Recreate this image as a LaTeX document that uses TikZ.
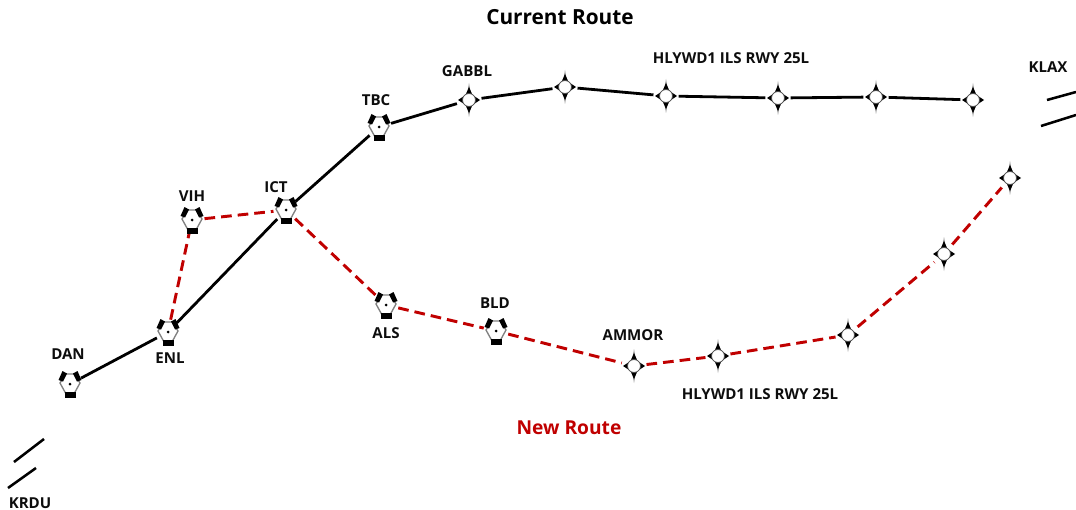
\documentclass[tikz,border=0pt]{standalone}
\usepackage{fontspec}
\setmainfont{Open Sans}
\definecolor{routered}{HTML}{C00000}
\tikzset{
  px/.style={x=0.75pt,y=-0.75pt},
  fix/.style={circle,minimum size=18.5pt,inner sep=0pt},
  lbl/.style={font=\bfseries\fontsize{11.3}{13}\selectfont,text=black!95,inner sep=0pt},
  titlelbl/.style={font=\bfseries\fontsize{15.6}{18}\selectfont,inner sep=0pt},
  cur/.style={line width=2.1pt,black},
  newr/.style={line width=2.2pt,routered,dash pattern=on 8pt off 4.5pt},
  rwy/.style={line width=1.9pt,black},
  vor/.pic={
    \draw[line width=1pt,black!50,fill=white] (-4,-10)--(4,-10)--(10,-1)--(4.5,9)--(-4.5,9)--(-10,-1)--cycle;
    \fill[black] (-5.5,8)--(5.5,8)--(5.5,14)--(-5.5,14)--cycle;
    \fill[black] (-7.5,-13)--(-3,-10.5)--(-7,-2.5)--(-11.5,-4)--cycle;
    \fill[black] (7.5,-13)--(3,-10.5)--(7,-2.5)--(11.5,-4)--cycle;
    \fill[black] (0,0) circle (1.5);
  },
  wpt/.pic={
    \fill[black!45] (0,-17)--(1.5,-8)--(-1.5,-8)--cycle (0,17)--(1.5,8)--(-1.5,8)--cycle;
    \fill[black] (0,-13)--(3.5,-5)--(11,0)--(3.5,5)--(0,13)--(-3.5,5)--(-11,0)--(-3.5,-5)--cycle;
    \draw[black!70,line width=.6pt,fill=white] (0,0) circle (6.5);
  },
}
\begin{document}
\begin{tikzpicture}[px]
\useasboundingbox (0,0) rectangle (1076,510);
% VOR fixes
\node[fix] (dan) at (70,384) {};
\node[fix] (enl) at (168,332) {};
\node[fix] (vih) at (192,220) {};
\node[fix] (ict) at (286,210) {};
\node[fix] (tbc) at (379,127) {};
\node[fix] (als) at (386,305) {};
\node[fix] (bld) at (496,331) {};
% waypoints, current route
\node[fix] (gabbl) at (469,100) {};
\node[fix] (c2) at (565,87) {};
\node[fix] (c3) at (666,96) {};
\node[fix] (c4) at (778,98) {};
\node[fix] (c5) at (876,97) {};
\node[fix] (c6) at (973,100) {};
% waypoints, new route
\node[fix] (ammor) at (634,366) {};
\node[fix] (n2) at (718,356) {};
\node[fix] (n3) at (848,335) {};
\node[fix] (n4) at (944,254) {};
\node[fix] (n5) at (1010,178) {};
% runway end points
\coordinate (ra1) at (14,462); \coordinate (ra2) at (44,439);
\coordinate (rb1) at (8,488); \coordinate (rb2) at (36,468);
\coordinate (la1) at (1047,100); \coordinate (la2) at (1076,92);
\coordinate (lb1) at (1041,126); \coordinate (lb2) at (1076,115);
% connectors
\draw[cur] (dan)--(enl);
\draw[cur] (enl)--(ict);
\draw[cur] (ict)--(tbc);
\draw[cur] (tbc)--(gabbl);
\draw[cur] (gabbl)--(c2);
\draw[cur] (c2)--(c3);
\draw[cur] (c3)--(c4);
\draw[cur] (c4)--(c5);
\draw[cur] (c5)--(c6);
\draw[newr] (enl)--(vih);
\draw[newr] (vih)--(ict);
\draw[newr] (ict)--(als);
\draw[newr] (als)--(bld);
\draw[newr] (bld)--(ammor);
\draw[newr] (ammor)--(n2);
\draw[newr] (n2)--(n3);
\draw[newr] (n3)--(n4);
\draw[newr] (n4)--(n5);
\draw[rwy] (ra1)--(ra2);
\draw[rwy] (rb1)--(rb2);
\draw[rwy] (la1)--(la2);
\draw[rwy] (lb1)--(lb2);
% symbols
\foreach \p in {dan,enl,vih,ict,tbc,als,bld} \pic at (\p) {vor};
\foreach \p in {gabbl,c2,c3,c4,c5,c6,ammor,n2,n3,n4,n5} \pic at (\p) {wpt};
% labels
\node[titlelbl] (title) at (560,17) {Current Route};
\node[titlelbl,text=routered,font=\bfseries\fontsize{14.4}{17}\selectfont] (newlbl) at (569,428) {New Route};
\node[lbl] (l1) at (467,71) {GABBL};
\node[lbl] (l2) at (731,58) {HLYWD1 ILS RWY 25L};
\node[lbl] (l3) at (1048,67) {KLAX};
\node[lbl] (l4) at (376,100) {TBC};
\node[lbl] (l5) at (276,187) {ICT};
\node[lbl] (l6) at (192,196) {VIH};
\node[lbl] (l7) at (68,354) {DAN};
\node[lbl] (l8) at (170,358) {ENL};
\node[lbl] (l9) at (386,333) {ALS};
\node[lbl] (l10) at (495,303) {BLD};
\node[lbl] (l11) at (633,335) {AMMOR};
\node[lbl] (l12) at (760,394) {HLYWD1 ILS RWY 25L};
\node[lbl] (l13) at (30,503) {KRDU};
\end{tikzpicture}
\end{document}
